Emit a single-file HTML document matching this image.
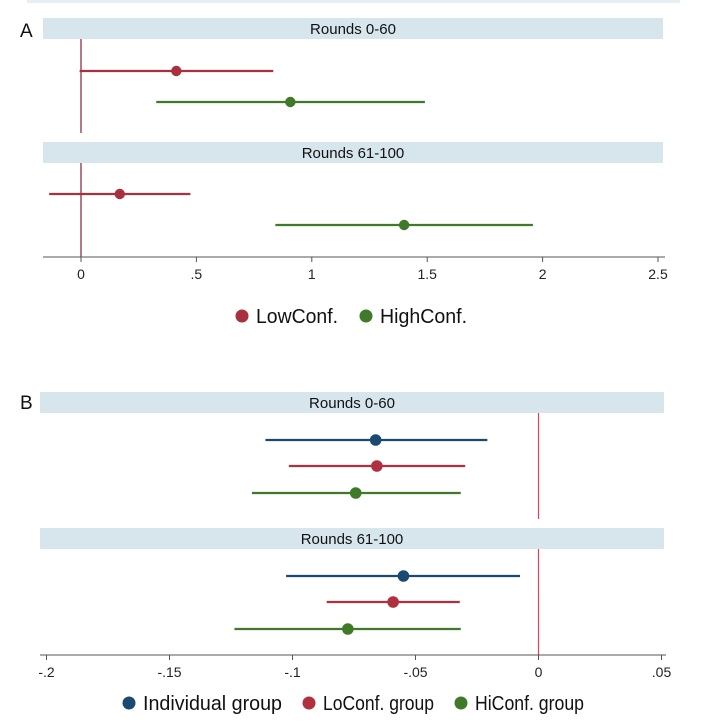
<!DOCTYPE html>
<html><head><meta charset="utf-8"><style>
html,body{margin:0;padding:0;background:#fff;}
svg{display:block;font-family:"Liberation Sans",sans-serif;}
</style></head><body>
<svg id="c" width="703" height="724" viewBox="0 0 703 724" xmlns="http://www.w3.org/2000/svg">
<rect x="27" y="0" width="653" height="3" fill="#e6f0f4"/>
</svg>
<script>
// Panel A data
const aSeries = ["LowConf.", "HighConf."];
const aEst1 = [0.413, 0.907];
const aLo1 = [-0.006, 0.326];
const aHi1 = [0.833, 1.49];
const aEst2 = [0.168, 1.40];
const aLo2 = [-0.138, 0.842];
const aHi2 = [0.474, 1.958];
const aTicks = [0, 0.5, 1, 1.5, 2, 2.5];
const aTickLabels = ["0", ".5", "1", "1.5", "2", "2.5"];
// Panel B data
const bSeries = ["Individual group", "LoConf. group", "HiConf. group"];
const bEst1 = [-0.0662, -0.0657, -0.0743];
const bLo1 = [-0.111, -0.1015, -0.1165];
const bHi1 = [-0.0208, -0.0298, -0.0316];
const bEst2 = [-0.0549, -0.0591, -0.0775];
const bLo2 = [-0.1026, -0.0861, -0.1236];
const bHi2 = [-0.0075, -0.032, -0.0316];
const bTicks = [-0.2, -0.15, -0.1, -0.05, 0, 0.05];
const bTickLabels = ["-.2", "-.15", "-.1", "-.05", "0", ".05"];
const stripTitles = ["Rounds 0-60", "Rounds 61-100"];

const svg = document.getElementById('c');
const NS = "http://www.w3.org/2000/svg";
function mk(tag, attrs, parent){
  const e = document.createElementNS(NS, tag);
  for (const k in attrs) e.setAttribute(k, attrs[k]);
  (parent||svg).appendChild(e);
  return e;
}
const xA = v => 81 + v * 230.8;
const xB = v => 538.5 + v * 2460;

function panel(cfg){
  const g = mk('g', {});
  
  
  const lab = mk('text', {x: 20, y: cfg.labelY, 'font-size': 19, fill: '#111'}, g);
  lab.textContent = cfg.letter;
  
  
  cfg.strips.forEach((s, i) => {
    const r = mk('rect', {x: cfg.x0, y: s.y, width: cfg.x1 - cfg.x0, height: 21, fill: '#d6e6ec'}, g);
    
    
    const t = mk('text', {x: (cfg.x0 + cfg.x1) / 2, y: s.y + 16, 'font-size': 15, 'text-anchor': 'middle', fill: '#111'}, g);
    t.textContent = stripTitles[i];
    
    
    const zl = mk('line', {x1: cfg.sx(0), x2: cfg.sx(0), y1: s.y + 21, y2: s.bottom, stroke: cfg.zeroColor, 'stroke-width': 1.2}, g);
    
    
    s.est.forEach((e, j) => {
      const y = s.rows[j];
      const l = mk('line', {x1: cfg.sx(s.lo[j]), x2: cfg.sx(s.hi[j]), y1: y, y2: y, stroke: cfg.colors[j], 'stroke-width': 2.2}, g);
      
      
      const c = mk('circle', {cx: cfg.sx(e), cy: y, r: cfg.mr, fill: cfg.colors[j]}, g);
      
      
    });
  });
  const ax = mk('line', {x1: cfg.x0, x2: cfg.x1 + 2, y1: cfg.axisY, y2: cfg.axisY, stroke: '#555', 'stroke-width': 1}, g);
  
  
  cfg.ticks.forEach((v, i) => {
    const tk = mk('line', {x1: cfg.sx(v), x2: cfg.sx(v), y1: cfg.axisY, y2: cfg.axisY + 5, stroke: '#555'}, g);
    
    
    const tl = mk('text', {x: cfg.sx(v), y: cfg.axisY + 22, 'font-size': 14, 'text-anchor': 'middle', fill: '#222'}, g);
    tl.textContent = cfg.tickLabels[i];
    
    
  });
  cfg.series.forEach((s, i) => {
    const lg = mk('g', {}, g);
    
    
    mk('circle', {cx: cfg.legX[i], cy: cfg.legY, r: 6.5, fill: cfg.colors[i]}, lg);
    const lt = mk('text', {x: cfg.legX[i] + 14, y: cfg.legY + 7, 'font-size': 20, fill: '#111',
      textLength: cfg.legW[i], lengthAdjust: 'spacingAndGlyphs'}, lg);
    lt.textContent = s;
  });
}

panel({name: 'panel-a', letter: 'A', labelY: 37, x0: 43, x1: 663, sx: xA, zeroColor: '#8b1a2e', mr: 5.2,
  colors: ['#a8303f', '#3f7a28'], axisY: 257, ticks: aTicks, tickLabels: aTickLabels,
  strips: [
    {y: 18, bottom: 133, rows: [71, 102], est: aEst1, lo: aLo1, hi: aHi1},
    {y: 142, bottom: 257, rows: [194, 225], est: aEst2, lo: aLo2, hi: aHi2}
  ],
  series: aSeries, legX: [242, 366], legW: [82, 87], legY: 316});

panel({name: 'panel-b', letter: 'B', labelY: 409, x0: 40, x1: 664, sx: xB, zeroColor: '#e0405a', mr: 5.8,
  colors: ['#1a4a72', '#b0303f', '#3f7a28'], axisY: 655, ticks: bTicks, tickLabels: bTickLabels,
  strips: [
    {y: 392, bottom: 519, rows: [440, 466, 493], est: bEst1, lo: bLo1, hi: bHi1},
    {y: 528, bottom: 655, rows: [576, 602, 629], est: bEst2, lo: bLo2, hi: bHi2}
  ],
  series: bSeries, legX: [129, 309, 461], legW: [139, 111, 109], legY: 703});
</script>
</body></html>
